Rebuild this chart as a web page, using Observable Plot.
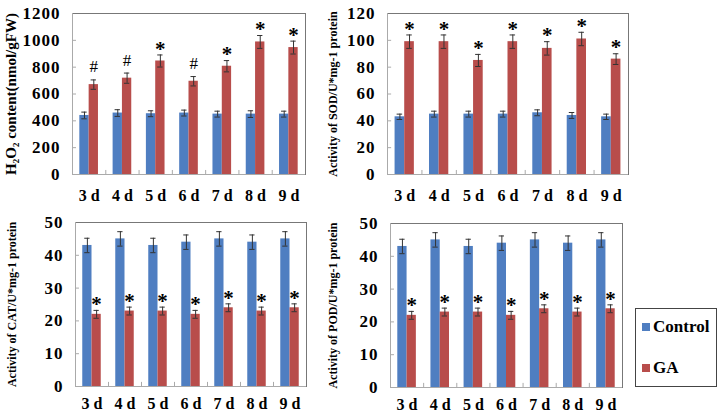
<!DOCTYPE html>
<html>
<head>
<meta charset="utf-8">
<script src="https://cdn.jsdelivr.net/npm/d3@7"></script>
<script src="https://cdn.jsdelivr.net/npm/@observablehq/plot@0.6"></script>
<style>
  html, body { margin: 0; padding: 0; background: #fff; }
  #wrap { position: relative; width: 719px; height: 416px; overflow: hidden; background: #fff; }
  #wrap svg { position: absolute; background: transparent; max-width: none; }
  .legend { position: absolute; left: 635px; top: 308px; width: 82px; height: 79px; box-sizing: border-box;
    border: 1px solid #444; font-family: "Liberation Serif", "Times New Roman", serif; font-weight: bold; font-size: 17px; }
  .legend .item { position: absolute; left: 6px; display: flex; align-items: center; }
  .legend .sw { width: 8px; height: 8px; margin-right: 3px; }
</style>
</head>
<body>
<div id="wrap"></div>
<script>
// ---- data ----
const days = ["3 d", "4 d", "5 d", "6 d", "7 d", "8 d", "9 d"];
const series = ["Control", "GA"];
const colors = ["#4F7EC1", "#B84D4B"];

const h2o2Control = [440, 458, 453, 458, 450, 450, 450];
const h2o2ControlErr = [25, 25, 22, 22, 22, 25, 22];
const h2o2GA = [670, 718, 846, 695, 807, 988, 946];
const h2o2GAErr = [35, 38, 45, 35, 42, 48, 48];
const h2o2Marks = ["#", "#", "*", "#", "*", "*", "*"];
const h2o2Ticks = [0, 200, 400, 600, 800, 1000, 1200];

const sodControl = [43, 45, 45, 45, 46, 44, 43];
const sodControlErr = [2, 2.2, 2.2, 2.2, 2.2, 2.2, 2];
const sodGA = [99, 99, 85, 99, 94, 101, 86];
const sodGAErr = [5, 5, 4.5, 5, 5, 5, 4];
const sodMarks = ["*", "*", "*", "*", "*", "*", "*"];
const sodTicks = [0, 20, 40, 60, 80, 100, 120];

const catControl = [43, 45, 43, 44, 45, 44, 45];
const catControlErr = [2.2, 2.2, 2.2, 2.2, 2.2, 2.2, 2.2];
const catGA = [22, 23, 23, 22, 24, 23, 24];
const catGAErr = [1.2, 1.2, 1.2, 1.2, 1.2, 1.2, 1.2];
const catMarks = ["*", "*", "*", "*", "*", "*", "*"];
const catTicks = [0, 10, 20, 30, 40, 50];

const podControl = [43, 45, 43, 44, 45, 44, 45];
const podControlErr = [2.2, 2.2, 2.2, 2.2, 2.2, 2.2, 2.2];
const podGA = [22, 23, 23, 22, 24, 23, 24];
const podGAErr = [1.2, 1.2, 1.2, 1.2, 1.2, 1.2, 1.2];
const podMarks = ["*", "*", "*", "*", "*", "*", "*"];
const podTicks = [0, 10, 20, 30, 40, 50];

const serif = '"Liberation Serif", "Times New Roman", serif';
const W = 0.28; // bar width as a fraction of the day group

function rowsOf(ctrl, ctrlErr, ga, gaErr, marks) {
  return days.flatMap((d, i) => [
    {i, day: d, series: "Control", value: ctrl[i], err: ctrlErr[i], mark: ""},
    {i, day: d, series: "GA", value: ga[i], err: gaErr[i], mark: marks[i]}
  ]);
}
const x1 = d => d.i + 0.5 - (d.series === "Control" ? W : 0);
const x2 = d => d.i + 0.5 + (d.series === "GA" ? W : 0);
const cx = d => (x1(d) + x2(d)) / 2;

function panel(cfg) {
  const rows = rowsOf(...cfg.data);
  const ymax = cfg.ticks[cfg.ticks.length - 1];
  const svg = Plot.plot({
    width: cfg.width, height: cfg.height,
    marginLeft: cfg.ml, marginRight: cfg.mr, marginTop: cfg.mt, marginBottom: cfg.mb,
    style: {fontFamily: serif, fontWeight: "bold", fontSize: "16px", color: "#000", background: "transparent"},
    x: {domain: [0, days.length], ticks: days.map((d, i) => i + 0.5), tickFormat: v => days[Math.floor(v)],
        tickSize: 0, tickPadding: cfg.xpad, label: null},
    y: {domain: [0, ymax], ticks: cfg.ticks, tickFormat: v => String(v), tickSize: 0, tickPadding: 12, label: null},
    color: {domain: series, range: colors},
    marks: [
      Plot.rectY(rows, {x1, x2, y: "value", fill: "series"}),
      Plot.ruleY(cfg.ticks, {x1: 0, x2: 0.12, stroke: "#aaa"}),
      Plot.ruleX(d3.range(1, days.length), {y1: 0, y2: ymax * 0.025, stroke: "#aaa"}),
      Plot.ruleX(rows, {x: cx, y1: d => d.value - d.err, y2: d => d.value + d.err, stroke: "#333"}),
      Plot.ruleY(rows, {y: d => d.value + d.err, x1: d => cx(d) - 0.08, x2: d => cx(d) + 0.08, stroke: "#333"}),
      Plot.ruleY(rows, {y: d => d.value - d.err, x1: d => cx(d) - 0.08, x2: d => cx(d) + 0.08, stroke: "#333"}),
      Plot.frame({stroke: "#777"}),
      Plot.ruleX([0], {stroke: "#aaa"}),
      Plot.ruleY([0], {stroke: "#aaa"}),
      Plot.text(rows.filter(d => d.mark === "*"), {x: cx, y: d => d.value + d.err, text: "mark",
        fontSize: 21, fontWeight: "bold", dy: -6, fill: "#000"}),
      Plot.text(rows.filter(d => d.mark === "#"), {x: cx, y: d => d.value + d.err, text: "mark",
        fontSize: 17, fontWeight: "normal", dy: -13, fill: "#000"}),
      Plot.text([cfg.title], {text: d => d, frameAnchor: "left", textAnchor: "middle", rotate: -90, dx: cfg.tdx,
        fontSize: cfg.tsize, fontWeight: "bold", fill: "#000"})
    ]
  });
  svg.style.left = cfg.left + "px";
  svg.style.top = cfg.top + "px";
  svg.querySelectorAll('g[aria-label="y-axis tick label"] text').forEach(t => {
    t.setAttribute("letter-spacing", "1");
    t.setAttribute("font-size", "17");
  });
  document.getElementById("wrap").appendChild(svg);
}

panel({data: [h2o2Control, h2o2ControlErr, h2o2GA, h2o2GAErr, h2o2Marks], ticks: h2o2Ticks,
  title: "H₂O₂ content(nmol/gFW)", tsize: 15, tdx: -61,
  left: 0, top: 0, width: 360, height: 205, ml: 72, mr: 55, mt: 13, mb: 31, xpad: 15});
panel({data: [sodControl, sodControlErr, sodGA, sodGAErr, sodMarks], ticks: sodTicks,
  title: "Activity of SOD/U*mg-1 protein", tsize: 12, tdx: -54,
  left: 300, top: 0, width: 419, height: 205, ml: 87, mr: 91, mt: 13, mb: 31, xpad: 15});
panel({data: [catControl, catControlErr, catGA, catGAErr, catMarks], ticks: catTicks,
  title: "Activity of CAT/U*mg-1 protein", tsize: 12, tdx: -63,
  left: 0, top: 205, width: 360, height: 211, ml: 75, mr: 54, mt: 17, mb: 30, xpad: 11});
panel({data: [podControl, podControlErr, podGA, podGAErr, podMarks], ticks: podTicks,
  title: "Activity of POD/U*mg-1 protein", tsize: 12, tdx: -57,
  left: 300, top: 205, width: 419, height: 211, ml: 90, mr: 97, mt: 18, mb: 29, xpad: 11});

// legend
const legend = document.createElement("div");
legend.className = "legend";
series.forEach((s, k) => {
  const it = document.createElement("div");
  it.className = "item";
  it.style.top = (k === 0 ? 8 : 49) + "px";
  const sw = document.createElement("span");
  sw.className = "sw";
  sw.style.background = colors[k];
  const lb = document.createElement("span");
  lb.textContent = s;
  it.appendChild(sw); it.appendChild(lb);
  legend.appendChild(it);
});
document.getElementById("wrap").appendChild(legend);
</script>
</body>
</html>
